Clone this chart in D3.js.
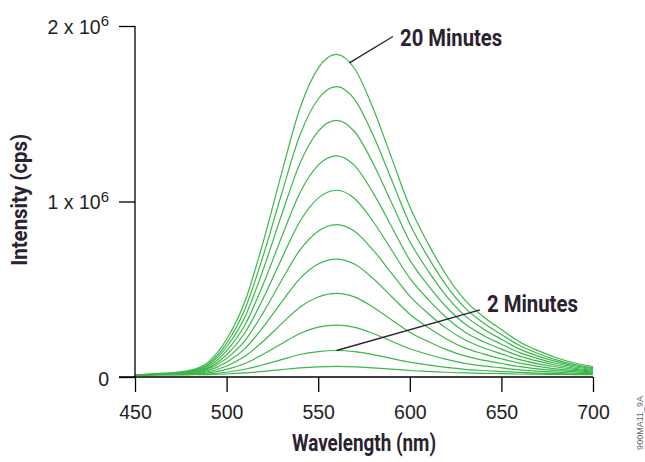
<!DOCTYPE html>
<html><head><meta charset="utf-8">
<script src="https://cdn.jsdelivr.net/npm/d3@7"></script>
<style>html,body{margin:0;padding:0;background:#fff;} svg{display:block;}</style>
</head><body>
<svg id="chart" width="645" height="462"></svg>
<script>
// ---- data (intensity in units of 1e6 cps) ----
const wavelengths = [450,458,470,480,490,500,510,520,530,540,550,560,570,580,590,600,610,620,630,640,650,660,670,680,690,700];
const minutes = [0,2,4,6,8,10,12,14,16,18,20];
const min0  = [0.010,0.012,0.012,0.013,0.014,0.017,0.023,0.032,0.042,0.052,0.058,0.060,0.058,0.052,0.045,0.037,0.032,0.027,0.023,0.021,0.019,0.017,0.016,0.015,0.014,0.013];
const min2  = [0.010,0.012,0.013,0.014,0.017,0.027,0.044,0.070,0.099,0.128,0.145,0.151,0.145,0.128,0.106,0.085,0.069,0.055,0.044,0.037,0.031,0.026,0.022,0.019,0.017,0.015];
const min4  = [0.010,0.013,0.014,0.016,0.023,0.043,0.077,0.130,0.190,0.248,0.284,0.296,0.283,0.248,0.204,0.161,0.128,0.100,0.078,0.063,0.052,0.041,0.033,0.027,0.022,0.019];
const min6  = [0.010,0.013,0.015,0.018,0.030,0.063,0.118,0.204,0.303,0.398,0.456,0.476,0.455,0.398,0.326,0.255,0.202,0.156,0.120,0.096,0.077,0.059,0.046,0.036,0.029,0.024];
const min8  = [0.010,0.013,0.016,0.020,0.037,0.084,0.162,0.285,0.427,0.561,0.644,0.672,0.642,0.561,0.459,0.358,0.282,0.217,0.166,0.132,0.104,0.079,0.061,0.046,0.036,0.028];
const min10 = [0.010,0.013,0.017,0.023,0.045,0.106,0.207,0.367,0.550,0.723,0.831,0.868,0.829,0.723,0.592,0.461,0.362,0.277,0.212,0.167,0.132,0.099,0.075,0.057,0.043,0.033];
const min12 = [0.010,0.014,0.018,0.025,0.052,0.127,0.252,0.448,0.673,0.886,1.019,1.064,1.016,0.886,0.725,0.563,0.442,0.338,0.257,0.202,0.159,0.119,0.090,0.067,0.050,0.038];
const min14 = [0.010,0.014,0.019,0.028,0.060,0.149,0.296,0.529,0.796,1.049,1.207,1.260,1.203,1.049,0.858,0.666,0.522,0.399,0.303,0.238,0.187,0.139,0.105,0.077,0.057,0.043];
const min16 = [0.010,0.014,0.020,0.030,0.068,0.171,0.342,0.613,0.923,1.217,1.400,1.462,1.396,1.217,0.994,0.772,0.605,0.461,0.350,0.275,0.215,0.159,0.119,0.088,0.064,0.048];
const min18 = [0.010,0.015,0.021,0.033,0.075,0.192,0.386,0.692,1.043,1.377,1.584,1.654,1.579,1.377,1.125,0.872,0.683,0.521,0.395,0.309,0.242,0.179,0.134,0.098,0.071,0.053];
const min20 = [0.010,0.018,0.025,0.038,0.085,0.215,0.430,0.770,1.160,1.530,1.760,1.838,1.755,1.530,1.250,0.970,0.760,0.580,0.440,0.345,0.270,0.200,0.150,0.110,0.080,0.060];
const xTicks = [450,500,550,600,650,700];
const yTicks = [0,1e6,2e6];
const yTickMantissa = ["0","1 x 10","2 x 10"];
const yTickExponent = ["","6","6"];
const xTitle = "Wavelength (nm)";
const yTitle = "Intensity (cps)";
const labelTop = "20 Minutes";
const labelBottom = "2 Minutes";
const figCode = "900MA11_9A";

const seriesValues = [min0,min2,min4,min6,min8,min10,min12,min14,min16,min18,min20];
const series = minutes.map((m,i)=>({minutes:m, points: wavelengths.map((w,j)=>({w, v: seriesValues[i][j]*1e6}))}));

// ---- drawing ----
const svg = d3.select("#chart");
const x = d3.scaleLinear().domain([450,700]).range([135,593]);
const y = d3.scaleLinear().domain([0,2e6]).range([377,26]);
const green = "#3db64b";
const ink = "#2a2230";
const tickFont = "'Liberation Sans', Arial, sans-serif";
const boldFont = "'Liberation Sans Narrow', 'Roboto', sans-serif";

const line = d3.line().x(d=>x(d.w)).y(d=>y(d.v)).curve(d3.curveMonotoneX);
svg.append("g").selectAll("path").data(series).join("path")
  .attr("d", d=>line(d.points))
  .attr("fill","none").attr("stroke",green).attr("stroke-width",1.2);

// x axis
const gx = svg.append("g").attr("transform",`translate(0,${y(0)})`)
  .call(d3.axisBottom(x).tickValues(xTicks).tickSize(15).tickSizeOuter(0).tickPadding(13).tickFormat(d3.format("d")));
gx.select(".domain").remove();
gx.append("line").attr("x1", x(450)-16).attr("x2", x(700)).attr("y1",0).attr("y2",0)
  .attr("stroke","#000").attr("stroke-width",1.3);
gx.selectAll(".tick line").attr("stroke","#000").attr("stroke-width",1.3);
gx.selectAll(".tick text").attr("font-family",tickFont).attr("font-size",19.5).attr("fill","#222");

// y axis
const gy = svg.append("g").attr("transform",`translate(${x(450)},0)`)
  .call(d3.axisLeft(y).tickValues(yTicks).tickSize(16).tickSizeOuter(0).tickPadding(10));
gy.select(".domain").remove();
gy.append("line").attr("x1",0).attr("x2",0).attr("y1",y(0)).attr("y2",y(2e6))
  .attr("stroke","#000").attr("stroke-width",1.3);
gy.selectAll(".tick line").attr("stroke","#000").attr("stroke-width",1.3);
gy.selectAll(".tick text").each(function(d,i){
  const t = d3.select(this).text(null).attr("font-family",tickFont).attr("font-size",19.5).attr("fill","#222");
  t.append("tspan").text(yTickMantissa[i]);
  if (yTickExponent[i]) t.append("tspan").attr("font-size",15).attr("dy","-0.5em").text(yTickExponent[i]);
});
gy.selectAll(".tick").filter(d=>d!==0).select("text").attr("dy","0.38em");
gy.selectAll(".tick").filter(d=>d===0).select("text").attr("dy","0.45em");

// axis titles
svg.append("text").attr("x", x(575)).attr("y", 451).attr("text-anchor","middle")
  .attr("font-family",boldFont).attr("font-weight","bold").attr("font-size",24).attr("fill",ink)
  .attr("textLength",144).attr("lengthAdjust","spacingAndGlyphs").text(xTitle);
svg.append("text").attr("transform",`translate(27,${y(1.01e6)}) rotate(-90)`).attr("text-anchor","middle")
  .attr("font-family",boldFont).attr("font-weight","bold").attr("font-size",22).attr("fill",ink)
  .attr("textLength",132).attr("lengthAdjust","spacingAndGlyphs").text(yTitle);

// annotations
svg.append("line").attr("x1",x(567)).attr("y1",y(1.79e6)).attr("x2",x(590.8)).attr("y2",y(1.94e6))
  .attr("stroke",ink).attr("stroke-width",1.3);
svg.append("text").attr("x",x(594.7)).attr("y",46)
  .attr("font-family",boldFont).attr("font-weight","bold").attr("font-size",24).attr("fill",ink)
  .attr("textLength",102).attr("lengthAdjust","spacingAndGlyphs").text(labelTop);
svg.append("line").attr("x1",x(560)).attr("y1",y(min2[11]*1e6)).attr("x2",x(638.3)).attr("y2",y(0.382e6))
  .attr("stroke",ink).attr("stroke-width",1.3);
svg.append("text").attr("x",x(642.1)).attr("y",312)
  .attr("font-family",boldFont).attr("font-weight","bold").attr("font-size",24).attr("fill",ink)
  .attr("textLength",91).attr("lengthAdjust","spacingAndGlyphs").text(labelBottom);

// figure code
svg.append("text").attr("transform","translate(643,396) rotate(-90)").attr("text-anchor","end")
  .attr("font-family",tickFont).attr("font-size",9).attr("fill","#666").text(figCode);
</script>
</body></html>
